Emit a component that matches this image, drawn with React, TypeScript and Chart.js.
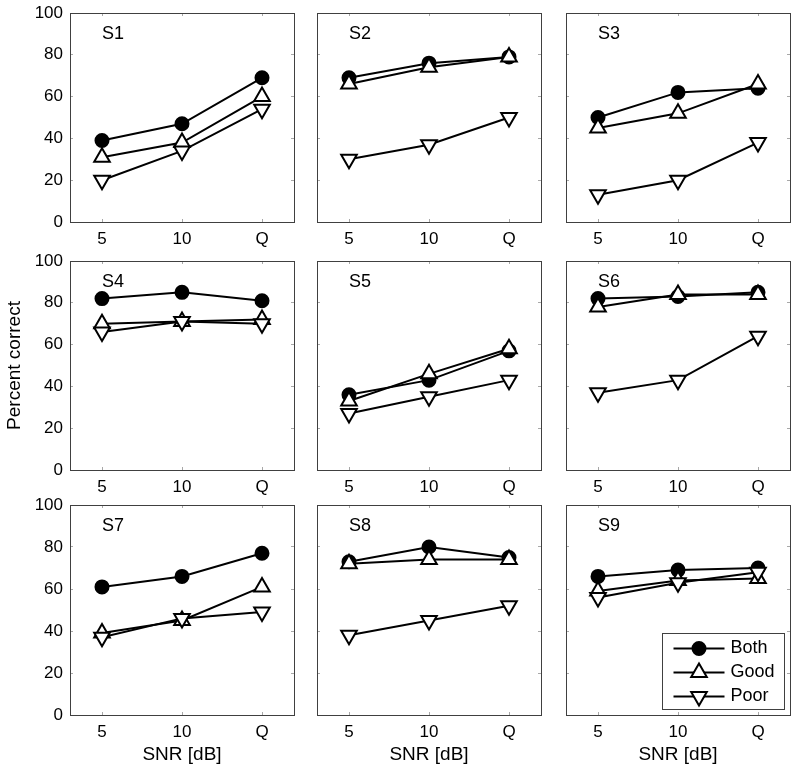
import React, { useEffect, useRef } from 'react';
import { Chart, registerables } from 'chart.js';
import { drawPoint } from 'chart.js/helpers';

Chart.register(...registerables);

// ---------- data ----------
const categories = ['5', '10', 'Q'];
const subjects = ['S1', 'S2', 'S3', 'S4', 'S5', 'S6', 'S7', 'S8', 'S9'];
const seriesNames = ['Both', 'Good', 'Poor'];
const yTicks = [0, 20, 40, 60, 80, 100];

const both = [
  [39, 47, 69],
  [69, 76, 79],
  [50, 62, 64],
  [82, 85, 81],
  [36, 43, 57],
  [82, 83, 85],
  [61, 66, 77],
  [73, 80, 75],
  [66, 69, 70],
];
const good = [
  [31, 38, 60],
  [66, 74, 79],
  [45, 52, 66],
  [70, 71, 72],
  [33, 46, 58],
  [78, 84, 84],
  [39, 45, 61],
  [72, 74, 74],
  [59, 64, 65],
];
const poor = [
  [20, 34, 54],
  [30, 37, 50],
  [13, 20, 38],
  [66, 71, 70],
  [27, 35, 43],
  [37, 43, 64],
  [37, 46, 49],
  [38, 45, 52],
  [56, 63, 68],
];

// ---------- layout ----------
const COL_LEFT = [70, 317, 566];
const COL_RIGHT = [297, 544, 793];
const ROW_TOP = [13, 261, 505];
const ROW_BOTTOM = [222, 470, 715];
const ML = 70;
const MR = 8;
const MT = 13;
const MB = 56;

const FONT = '"Liberation Sans", Arial, Helvetica, sans-serif';
const BORDER = '#404040';
const TICKC = '#a8a8a8';

Chart.defaults.font.family = FONT;
Chart.defaults.color = '#000';

const tickColor = (ctx: any) => {
  const v = ctx.tick ? ctx.tick.value : null;
  const s = ctx.scale;
  if (v === s.min || v === s.max) return 'rgba(0,0,0,0)';
  return TICKC;
};

const zeroPad = (s: any) => {
  s.paddingTop = 0;
  s.paddingBottom = 0;
  s.paddingLeft = 0;
  s.paddingRight = 0;
};

const toPts = (arr: number[]) => arr.map((v, k) => ({ x: k + 1, y: v }));

function Panel({ index }: { index: number }) {
  const ref = useRef<HTMLCanvasElement>(null);
  const col = index % 3;
  const row = Math.floor(index / 3);
  const w = ML + (COL_RIGHT[col] - COL_LEFT[col]) + MR;
  const h = MT + (ROW_BOTTOM[row] - ROW_TOP[row]) + MB;

  useEffect(() => {
    if (!ref.current) return;
    const xTicksBuild = (scale: any) => {
      scale.ticks = categories.map((_, k) => ({ value: k + 1 }));
    };
    const labelPlugin = {
      id: 'panelLabel',
      afterDatasetsDraw(chart: any) {
        const { ctx, scales } = chart;
        ctx.save();
        ctx.font = `18px ${FONT}`;
        ctx.fillStyle = '#000';
        ctx.textAlign = 'left';
        ctx.textBaseline = 'middle';
        ctx.fillText(subjects[index], scales.x.getPixelForValue(1), scales.y.getPixelForValue(90));
        ctx.restore();
      },
    };
    const legendPlugin = {
      id: 'boxLegend',
      afterDraw(chart: any) {
        if (index !== 8) return;
        const { ctx, chartArea } = chart;
        const bw = 122;
        const bh = 76;
        const bx = Math.round(chartArea.right - 6 - bw) + 0.5;
        const by = Math.round(chartArea.bottom - 6 - bh) + 0.5;
        ctx.save();
        ctx.fillStyle = '#fff';
        ctx.fillRect(bx, by, bw, bh);
        ctx.strokeStyle = BORDER;
        ctx.lineWidth = 1;
        ctx.strokeRect(bx, by, bw, bh);
        chart.data.datasets.forEach((ds: any, k: number) => {
          const cy = by + 15 + k * 24;
          ctx.strokeStyle = ds.borderColor;
          ctx.lineWidth = ds.borderWidth;
          ctx.beginPath();
          ctx.moveTo(bx + 11, cy);
          ctx.lineTo(bx + 62, cy);
          ctx.stroke();
          ctx.fillStyle = ds.pointBackgroundColor;
          ctx.strokeStyle = ds.pointBorderColor;
          ctx.lineWidth = ds.pointBorderWidth;
          drawPoint(ctx, {
            pointStyle: ds.pointStyle,
            rotation: ds.pointRotation || 0,
            radius: ds.pointRadius,
            borderWidth: ds.pointBorderWidth,
          } as any, bx + 36.5, cy);
          ctx.fillStyle = '#000';
          ctx.font = `18px ${FONT}`;
          ctx.textAlign = 'left';
          ctx.textBaseline = 'middle';
          ctx.fillText(ds.label, bx + 68, cy);
        });
        ctx.restore();
      },
    };

    const gridOpts = {
      drawOnChartArea: false,
      drawTicks: true,
      tickLength: -3,
      color: tickColor,
      lineWidth: 1,
    };
    const borderOpts = { display: true, color: BORDER, width: 1 };

    const chart = new Chart(ref.current, {
      type: 'line',
      data: {
        datasets: [
          {
            label: seriesNames[0],
            data: toPts(both[index]),
            borderColor: '#000',
            borderWidth: 2,
            pointStyle: 'circle',
            pointRadius: 6.5,
            pointBackgroundColor: '#000',
            pointBorderColor: '#000',
            pointBorderWidth: 2,
            tension: 0,
            fill: false,
            order: 3,
          },
          {
            label: seriesNames[1],
            data: toPts(good[index]),
            borderColor: '#000',
            borderWidth: 2,
            pointStyle: 'triangle',
            pointRadius: 9,
            pointBackgroundColor: '#fff',
            pointBorderColor: '#000',
            pointBorderWidth: 2,
            tension: 0,
            fill: false,
            order: 2,
          },
          {
            label: seriesNames[2],
            data: toPts(poor[index]),
            borderColor: '#000',
            borderWidth: 2,
            pointStyle: 'triangle',
            pointRotation: 180,
            pointRadius: 9,
            pointBackgroundColor: '#fff',
            pointBorderColor: '#000',
            pointBorderWidth: 2,
            tension: 0,
            fill: false,
            order: 1,
          },
        ] as any,
      },
      options: {
        responsive: false,
        maintainAspectRatio: false,
        animation: false,
        devicePixelRatio: 1,
        layout: { padding: 0 },
        events: [],
        plugins: {
          legend: { display: false },
          tooltip: { enabled: false },
          title: { display: false },
        },
        scales: {
          x: {
            type: 'linear',
            position: 'bottom',
            min: 0.6,
            max: 3.4,
            afterBuildTicks: xTicksBuild,
            afterFit: (s: any) => { s.height = MB; zeroPad(s); },
            grid: gridOpts as any,
            border: borderOpts,
            ticks: {
              color: '#000',
              font: { size: 17 },
              padding: 10,
              maxRotation: 0,
              autoSkip: false,
              callback: (v: any) => categories[Math.round(v) - 1] ?? '',
            },
            title: {
              display: row === 2,
              text: 'SNR [dB]',
              color: '#000',
              font: { size: 19 },
              padding: { top: 0, bottom: 4.6 },
            },
          },
          xTop: {
            type: 'linear',
            position: 'top',
            min: 0.6,
            max: 3.4,
            afterBuildTicks: xTicksBuild,
            afterFit: (s: any) => { s.height = MT; zeroPad(s); },
            grid: gridOpts as any,
            border: borderOpts,
            ticks: { display: false },
          },
          y: {
            type: 'linear',
            position: 'left',
            min: 0,
            max: 100,
            afterBuildTicks: (s: any) => { s.ticks = yTicks.map((v) => ({ value: v })); },
            afterFit: (s: any) => { s.width = ML; zeroPad(s); },
            grid: gridOpts as any,
            border: borderOpts,
            ticks: {
              display: col === 0,
              color: '#000',
              font: { size: 17 },
              padding: 10,
            },
            title: {
              display: col === 0 && row === 1,
              text: 'Percent correct',
              color: '#000',
              font: { size: 19 },
              padding: { top: 3.6, bottom: 0 },
            },
          },
          yRight: {
            type: 'linear',
            position: 'right',
            min: 0,
            max: 100,
            afterBuildTicks: (s: any) => { s.ticks = yTicks.map((v) => ({ value: v })); },
            afterFit: (s: any) => { s.width = MR; zeroPad(s); },
            grid: gridOpts as any,
            border: borderOpts,
            ticks: { display: false },
          },
        } as any,
      },
      plugins: [labelPlugin, legendPlugin],
    });
    return () => chart.destroy();
  }, [index]);

  return (
    <canvas
      ref={ref}
      width={w}
      height={h}
      style={{
        position: 'absolute',
        left: COL_LEFT[col] - ML,
        top: ROW_TOP[row] - MT,
        width: w,
        height: h,
      }}
    />
  );
}

export default function App() {
  return (
    <div
      style={{
        position: 'absolute',
        left: 0,
        top: 0,
        width: 800,
        height: 771,
        background: '#fff',
        overflow: 'hidden',
      }}
    >
      {subjects.map((_, i) => (
        <Panel key={i} index={i} />
      ))}
    </div>
  );
}
